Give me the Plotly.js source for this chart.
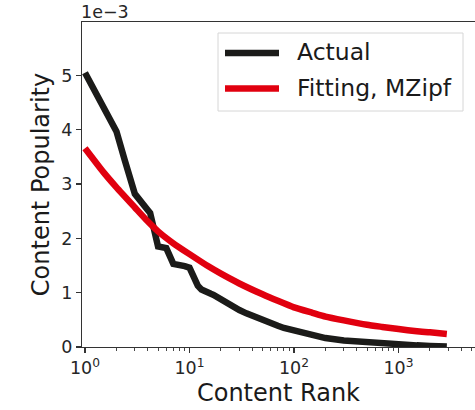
<!DOCTYPE html>
<html>
<head>
<meta charset="utf-8">
<script src="https://cdn.plot.ly/plotly-3.0.1.min.js"></script>
<style>
html,body{margin:0;padding:0;background:#fff;}
#chart{width:475px;height:410px;}
</style>
</head>
<body>
<div id="chart"></div>
<script>
// Values in units of 1e-3
const actualRank = [1, 2, 2.4, 3, 4, 4.2, 5, 6, 7, 8, 9, 10, 11, 12, 13, 14, 15, 16, 17, 18, 19, 20, 22, 24, 26, 28, 30, 35, 40, 45, 50, 60, 70, 80, 100, 150, 200, 300, 400, 600, 800, 1000, 1500, 2000, 2900];
const actualPop  = [5.05, 3.97, 3.44, 2.82, 2.52, 2.47, 1.85, 1.82, 1.53, 1.52, 1.49, 1.46, 1.25, 1.13, 1.06, 1.02, 1.00, 0.98, 0.96, 0.93, 0.89, 0.86, 0.82, 0.79, 0.75, 0.71, 0.68, 0.62, 0.57, 0.53, 0.50, 0.44, 0.39, 0.35, 0.30, 0.21, 0.165, 0.12, 0.10, 0.072, 0.055, 0.045, 0.03, 0.02, 0.01];

const fitRank = [1, 1.5, 2, 3, 4, 5, 7, 10, 15, 20, 30, 50, 70, 100, 150, 200, 300, 500, 700, 1000, 1500, 2000, 2900];
const fitPop  = [3.66, 3.22, 2.94, 2.57, 2.31, 2.13, 1.91, 1.71, 1.49, 1.35, 1.17, 0.97, 0.85, 0.73, 0.63, 0.56, 0.49, 0.41, 0.37, 0.33, 0.29, 0.27, 0.24];

const seriesNames = ['Actual', 'Fitting, MZipf'];
const xTickVals = [1, 10, 100, 1000];
const xTickText = ['10<sup>0</sup>', '10<sup>1</sup>', '10<sup>2</sup>', '10<sup>3</sup>'];
const yTickVals = [0, 1, 2, 3, 4, 5];
const yTickText = ['0', '1', '2', '3', '4', '5'];

const BLACK = '#1b1b19';
const RED = '#e1000f';
const FONT = 'DejaVu Sans, sans-serif';

// minor ticks 2..9 per decade
const minorVals = [];
for (let d = 0; d < 4; d++) for (let m = 2; m <= 9; m++) minorVals.push(m * Math.pow(10, d));

// plot area pixel geometry
const L = 82, T = 22, B = 63, W = 475, H = 410;
const PW = W - L, PH = H - T - B;
const px = x => (x - L) / PW;
const py = y => (H - B - y) / PH;

const traces = [
  {x: actualRank, y: actualPop, name: seriesNames[0], mode: 'lines',
   line: {color: BLACK, width: 6.5}, showlegend: false},
  {x: fitRank, y: fitPop, name: seriesNames[1], mode: 'lines',
   line: {color: RED, width: 6.5, shape: 'spline', smoothing: 0.5}, showlegend: false}
];

const shapes = [
  {type: 'rect', xref: 'paper', yref: 'paper', x0: px(218), x1: px(463), y0: py(111), y1: py(33),
   line: {color: '#d6d6d6', width: 1}, fillcolor: 'rgba(255,255,255,0.85)', layer: 'above'},
  {type: 'line', xref: 'paper', yref: 'paper', x0: px(225), x1: px(279), y0: py(53), y1: py(53),
   line: {color: BLACK, width: 6.5}, layer: 'above'},
  {type: 'line', xref: 'paper', yref: 'paper', x0: px(225), x1: px(279), y0: py(88.5), y1: py(88.5),
   line: {color: RED, width: 6.5}, layer: 'above'}
];

const annotations = [
  {text: '1e\u22123', xref: 'paper', yref: 'paper', x: 0, y: 1, xanchor: 'left', yanchor: 'bottom',
   showarrow: false, font: {family: FONT, size: 17.5, color: '#262626'}, xshift: -3, yshift: -2},
  {text: seriesNames[0], xref: 'paper', yref: 'paper', x: px(295), y: py(52), xanchor: 'left', yanchor: 'middle',
   showarrow: false, font: {family: FONT, size: 23.5, color: '#1a1a1a'}},
  {text: seriesNames[1], xref: 'paper', yref: 'paper', x: px(295), y: py(88), xanchor: 'left', yanchor: 'middle',
   showarrow: false, font: {family: FONT, size: 23.5, color: '#1a1a1a'}}
];

const layout = {
  width: W, height: H,
  margin: {l: L, r: 0, t: T, b: B, pad: 0},
  paper_bgcolor: '#fff', plot_bgcolor: '#fff',
  font: {family: FONT, color: '#262626'},
  showlegend: false,
  xaxis: {
    type: 'log', range: [-0.0287, 3.732],
    tickmode: 'array', tickvals: xTickVals, ticktext: xTickText,
    ticks: 'outside', ticklen: 5, tickwidth: 1.2, tickcolor: '#333',
    minor: {tickmode: 'array', tickvals: minorVals, ticks: 'outside', ticklen: 3, tickwidth: 0.9, tickcolor: '#333', showgrid: false},
    showgrid: false, zeroline: false,
    showline: true, linecolor: '#333', linewidth: 1.2, mirror: true,
    tickfont: {family: FONT, size: 17.5, color: '#262626'},
    title: {text: 'Content Rank', font: {family: FONT, size: 24, color: '#1a1a1a'}, standoff: 7}
  },
  yaxis: {
    range: [0, 5.985],
    tickmode: 'array', tickvals: yTickVals, ticktext: yTickText,
    ticks: 'outside', ticklen: 5, tickwidth: 1.2, tickcolor: '#333',
    showgrid: false, zeroline: false,
    showline: true, linecolor: '#333', linewidth: 1.2,
    tickfont: {family: FONT, size: 17.5, color: '#262626'},
    title: {text: 'Content Popularity', font: {family: FONT, size: 24, color: '#1a1a1a'}, standoff: 4}
  },
  shapes: shapes,
  annotations: annotations
};

Plotly.newPlot('chart', traces, layout, {staticPlot: true, displayModeBar: false});
</script>
</body>
</html>
